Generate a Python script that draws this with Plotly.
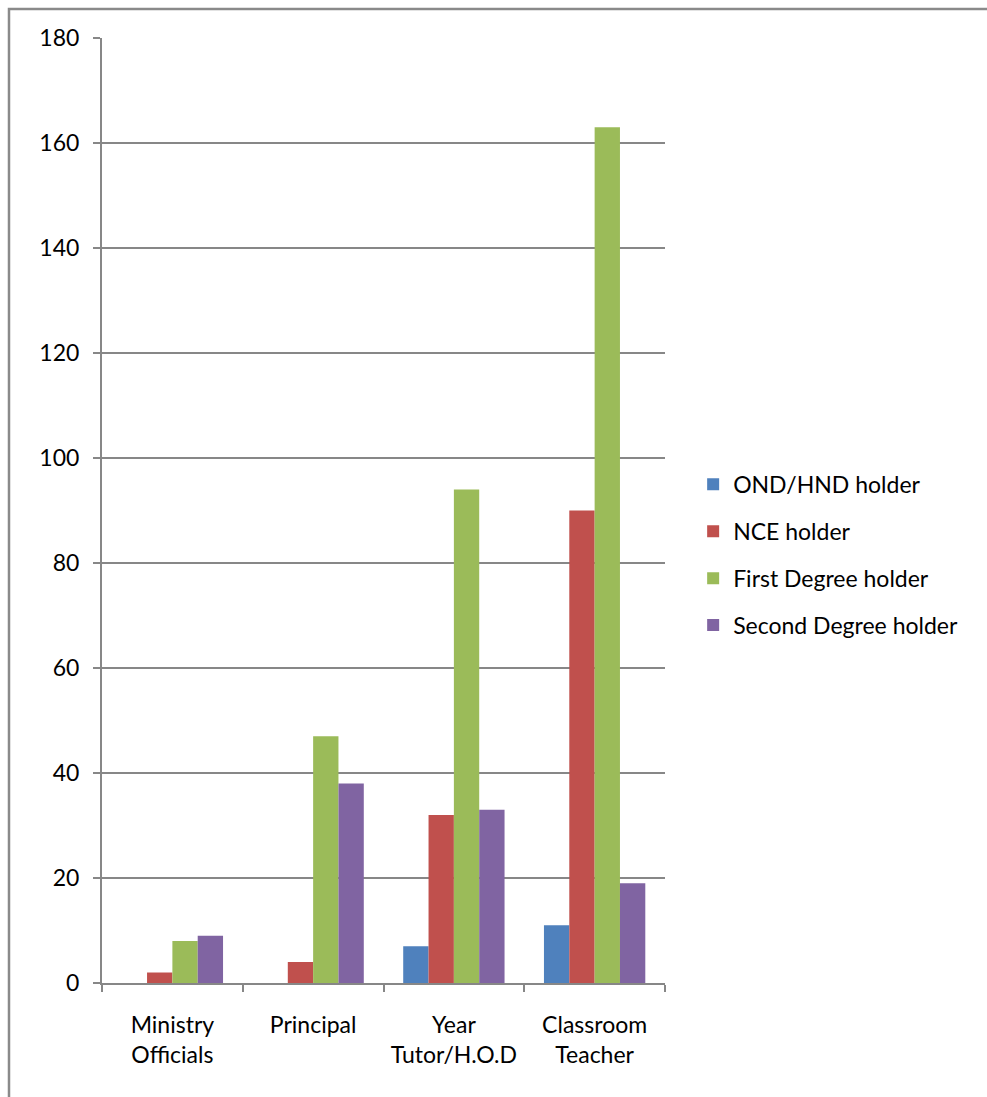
import plotly.graph_objects as go

categories = ["Ministry<br>Officials", "Principal", "Year<br>Tutor/H.O.D", "Classroom<br>Teacher"]
ond_hnd = [0, 0, 7, 11]
nce = [2, 4, 32, 90]
first_degree = [8, 47, 94, 163]
second_degree = [9, 38, 33, 19]

series = [
    ("OND/HND holder", ond_hnd, "#4F81BD"),
    ("NCE holder", nce, "#C0504D"),
    ("First Degree holder", first_degree, "#9BBB59"),
    ("Second Degree holder", second_degree, "#8064A2"),
]

fig = go.Figure()
for i, (name, vals, color) in enumerate(series):
    fig.add_trace(go.Bar(
        name=name, x=categories, y=vals,
        marker=dict(color=color, line=dict(width=0)),
        legendgroup=f"g{i}",
    ))

grey = "#878787"
font = dict(family="Lato, Calibri, sans-serif", size=23, color="#000000")

fig.update_layout(
    width=987, height=1097,
    margin=dict(l=102, r=322, t=38, b=114),
    paper_bgcolor="white", plot_bgcolor="white",
    font=font,
    barmode="group", bargap=0.28, bargroupgap=0,
    showlegend=True,
    legend=dict(
        x=1.05, xanchor="left", xref="paper", y=0.453, yanchor="middle",
        font=font, tracegroupgap=14, traceorder="grouped",
        bgcolor="rgba(0,0,0,0)", itemwidth=30,
    ),
    xaxis=dict(
        showgrid=False, showline=True, linecolor=grey, linewidth=2,
        ticks="outside", ticklen=7, tickcolor=grey, tickwidth=2,
        tickson="boundaries", tickfont=font, ticklabelstandoff=20,
    ),
    yaxis=dict(
        range=[0, 180], dtick=20, showgrid=True, gridcolor=grey, gridwidth=1.5,
        showline=True, linecolor=grey, linewidth=2, zeroline=False,
        ticks="outside", ticklen=7, tickcolor=grey, tickwidth=2,
        ticklabelstandoff=9, tickfont=font,
    ),
    shapes=[dict(
        type="rect", xref="paper", yref="paper",
        x0=-0.1652, x1=2.0, y0=-1.0, y1=1.0307,
        line=dict(color="#8A8A8A", width=2.5), fillcolor="rgba(0,0,0,0)",
        layer="below",
    )],
)

fig.write_html("out.html")
